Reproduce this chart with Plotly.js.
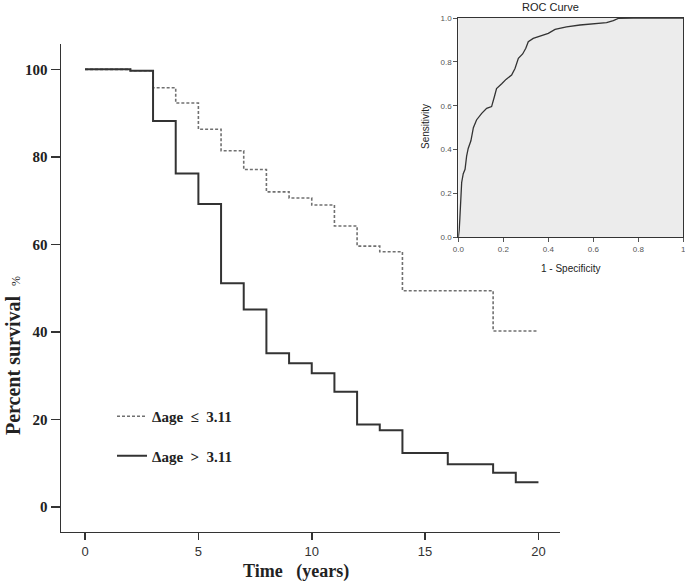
<!DOCTYPE html>
<html>
<head>
<meta charset="utf-8">
<script src="https://cdn.plot.ly/plotly-3.0.1.min.js"></script>
<style>html,body{margin:0;padding:0;background:#fff;}#chart{width:685px;height:582px;}</style>
</head>
<body>
<div id="chart"></div>
<script>
// ---- Data ----
var timeHigh = [0, 2, 3, 4, 5, 6, 7, 8, 9, 10, 11, 12, 13, 14, 16, 18, 19, 20];
var survHigh = [100, 99.7, 88.2, 76.2, 69.2, 51.1, 45.1, 35.1, 32.8, 30.5, 26.3, 18.8, 17.5, 12.3, 9.7, 7.8, 5.6, 5.6];
var timeLow = [0, 2, 3, 4, 5, 6, 7, 8, 9, 10, 11, 12, 13, 14, 18, 20];
var survLow = [100, 99.7, 95.8, 92.3, 86.3, 81.4, 77.1, 72.0, 70.6, 69.0, 64.2, 59.6, 58.3, 49.4, 40.2, 40.2];
var rocFPR = [0, 0.004, 0.007, 0.01, 0.015, 0.022, 0.03, 0.037, 0.044, 0.056, 0.067, 0.081, 0.104, 0.126, 0.148, 0.16, 0.17, 0.193, 0.212, 0.237, 0.252, 0.267, 0.286, 0.30, 0.311, 0.333, 0.363, 0.40, 0.43, 0.481, 0.541, 0.585, 0.659, 0.689, 0.711, 0.778, 1];
var rocTPR = [0, 0.033, 0.087, 0.17, 0.25, 0.29, 0.31, 0.37, 0.405, 0.44, 0.50, 0.535, 0.565, 0.588, 0.596, 0.64, 0.678, 0.70, 0.72, 0.74, 0.77, 0.816, 0.836, 0.862, 0.892, 0.907, 0.918, 0.93, 0.948, 0.96, 0.968, 0.973, 0.979, 0.988, 0.998, 1.0, 1.0];
var xTicks = [0, 5, 10, 15, 20];
var yTicks = [0, 20, 40, 60, 80, 100];
var rocTickVals = [0, 0.2, 0.4, 0.6, 0.8, 1];
var rocXTickText = ["0.0", "0.2", "0.4", "0.6", "0.8", "1"];
var rocYTickText = ["0.0", "0.2", "0.4", "0.6", "0.8", "1.0"];
var labelLow = "<b>\u0394age\u00A0\u00A0\u2264\u00A0\u00A03.11</b>";
var labelHigh = "<b>\u0394age\u00A0\u00A0\u003E\u00A0\u00A03.11</b>";

// ---- Layout helpers (pixel -> paper) ----
var W = 685, H = 582;
function px(x) { return x / W; }
function py(y) { return (H - y) / H; }

var serif = "Liberation Serif, Times New Roman, serif";
var sans = "Liberation Sans, Arial, sans-serif";

var traces = [
  {x: timeLow, y: survLow, type: "scatter", mode: "lines", line: {shape: "hv", color: "#707070", width: 1.6, dash: "3px,2px"},
   name: labelLow, legendgroup: "a", xaxis: "x", yaxis: "y"},
  {x: timeHigh, y: survHigh, type: "scatter", mode: "lines", line: {shape: "hv", color: "#333333", width: 2},
   name: labelHigh, legendgroup: "b", xaxis: "x", yaxis: "y"},
  {x: rocFPR, y: rocTPR, type: "scatter", mode: "lines", line: {color: "#333333", width: 1.3},
   showlegend: false, xaxis: "x2", yaxis: "y2"}
];

function ann(text, x, y, size, family, angle) {
  return {text: text, xref: "paper", yref: "paper", x: px(x), y: py(y), xanchor: "center", yanchor: "middle",
          textangle: angle || 0, showarrow: false, borderpad: 0, font: {family: family, size: size, color: "#222"}};
}

var layout = {
  width: W, height: H,
  margin: {l: 0, r: 0, t: 0, b: 0},
  paper_bgcolor: "#ffffff",
  plot_bgcolor: "rgba(0,0,0,0)",
  showlegend: true,
  legend: {x: px(112), y: py(400), xanchor: "left", yanchor: "top", bgcolor: "rgba(0,0,0,0)",
           font: {family: serif, size: 15, color: "#222"}, tracegroupgap: 17, itemwidth: 30},
  xaxis: {domain: [px(61), px(560)], range: [-1.06, 20.95], showline: true, linecolor: "#333", linewidth: 1.5,
          ticks: "outside", ticklen: 7, tickwidth: 1.5, tickcolor: "#333", showgrid: false, zeroline: false,
          tickvals: xTicks, tickfont: {family: sans, size: 13, color: "#333"}, anchor: "y"},
  yaxis: {domain: [py(531.7), py(44)], range: [-5.7, 105.8], showline: true, linecolor: "#333", linewidth: 1.5,
          ticks: "outside", ticklen: 9, tickwidth: 1.5, tickcolor: "#333", showgrid: false, zeroline: false,
          tickvals: yTicks, tickfont: {family: serif, size: 15, color: "#222", weight: "bold"}, anchor: "x"},
  xaxis2: {domain: [px(458.3), px(683.3)], range: [0, 1], showline: true, mirror: true, linecolor: "#333", linewidth: 1,
           ticks: "outside", ticklen: 4, tickcolor: "#555", showgrid: false, zeroline: false, ticklabeloverflow: "allow",
           tickvals: rocTickVals, ticktext: rocXTickText, tickfont: {family: sans, size: 8, color: "#555"}, anchor: "y2"},
  yaxis2: {domain: [py(237.3), py(18)], range: [0, 1], showline: true, mirror: true, linecolor: "#333", linewidth: 1,
           ticks: "outside", ticklen: 4, tickcolor: "#555", showgrid: false, zeroline: false, ticklabeloverflow: "allow",
           tickvals: rocTickVals, ticktext: rocYTickText, tickfont: {family: sans, size: 8, color: "#555"}, anchor: "x2"},
  shapes: [
    {type: "rect", xref: "x2 domain", yref: "y2 domain", x0: 0, x1: 1, y0: 0, y1: 1,
     fillcolor: "#ececec", line: {width: 0}, layer: "below"}
  ],
  annotations: [
    ann("<b>Percent survival</b>  <span style='font-size:12px'>%</span>", 13, 356, 20, serif, -90),
    ann("<b>Time   (years)</b>", 296, 571, 18, serif),
    ann("ROC Curve", 550, 7, 11, sans),
    ann("1 - Specificity", 570, 268, 10, sans),
    ann("Sensitivity", 425, 127, 10, sans, -90)
  ]
};

Plotly.newPlot("chart", traces, layout, {displayModeBar: false, staticPlot: true});
</script>
</body>
</html>
